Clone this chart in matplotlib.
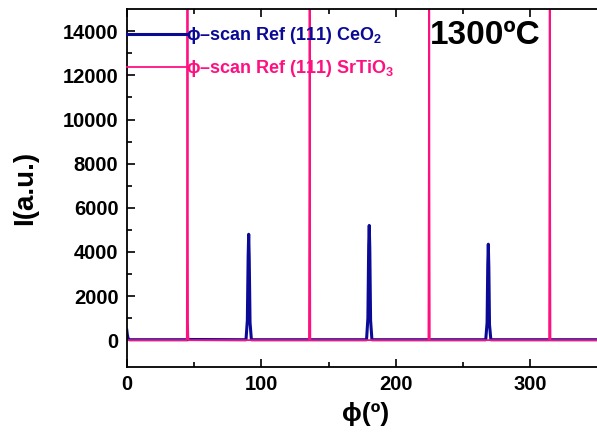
import numpy as np
import matplotlib
matplotlib.use('Agg')
import matplotlib.pyplot as plt

plt.rcParams['font.family'] = ['Liberation Sans', 'DejaVu Sans']
plt.rcParams['mathtext.fontset'] = 'custom'
plt.rcParams['mathtext.rm'] = 'Liberation Sans:bold'
plt.rcParams['mathtext.it'] = 'Liberation Sans:bold'
plt.rcParams['mathtext.bf'] = 'Liberation Sans:bold'

# phi-scan data
ceo2_phi = [0, 0.4, 1.0, 2.0, 45, 46, 88.6, 89.6, 90.2, 90.6, 91.0, 91.6, 92.6,
            178.2, 179.2, 179.8, 180.2, 180.6, 181.2, 182.2,
            266.8, 267.8, 268.3, 268.7, 269.1, 269.6, 270.6, 355]
ceo2_I = [450, 250, 60, 20, 20, 30, 20, 900, 3800, 4800, 3700, 800, 20,
          20, 1000, 4300, 5200, 4200, 900, 20,
          20, 800, 3400, 4350, 3300, 700, 20, 20]

sto_phi = [0, 44.6, 44.9, 45.1, 45.3, 45.5, 45.7, 46.0,
           135.4, 135.7, 135.9, 136.1, 136.4,
           224.2, 224.5, 224.7, 224.9, 225.2,
           313.9, 314.2, 314.4, 314.6, 314.9, 355]
sto_I = [0, 0, 8000, 30000, 8000, 800, 200, 0,
         0, 8000, 30000, 8000, 0,
         0, 8000, 30000, 8000, 0,
         0, 8000, 30000, 8000, 0, 0]

blue = '#0A0A96'
pink = '#FF1080'

fig = plt.figure(figsize=(5.97, 4.37), dpi=100)
ax = fig.add_axes([0.2124, 0.161, 0.80, 0.818])

ax.plot(ceo2_phi, ceo2_I, color=blue, lw=2.2, label='\u03d5\u2013scan Ref (111) CeO$_2$')
ax.plot(sto_phi, sto_I, color=pink, lw=1.3, label='\u03d5\u2013scan Ref (111) SrTiO$_3$')

ax.set_xlim(0, 355)
ax.set_ylim(-1200, 15000)
ax.set_xticks([0, 100, 200, 300])
ax.set_xticks([50, 150, 250, 350], minor=True)
ax.set_yticks(np.arange(0, 14001, 2000))
ax.set_yticks(np.arange(1000, 15000, 2000), minor=True)
ax.tick_params(which='both', direction='in', top=True, right=False, width=1.2)
ax.tick_params(which='major', length=6, labelsize=14.5, pad=6)
ax.tick_params(which='minor', length=3.5)
for lab in ax.get_xticklabels() + ax.get_yticklabels():
    lab.set_fontweight('bold')
for s in ['left', 'bottom', 'top']:
    ax.spines[s].set_linewidth(1.3)
ax.spines['right'].set_visible(False)

ax.set_xlabel('\u03d5(\u00ba)', fontsize=19, fontweight='bold', labelpad=6)
ax.set_ylabel('I(a.u.)', fontsize=20, fontweight='bold', labelpad=18)

leg = ax.legend(loc='upper left', bbox_to_anchor=(0.0, 0.955), frameon=False,
                fontsize=13, handlelength=3.3, handletextpad=0.0,
                labelspacing=0.65, borderaxespad=0.0, borderpad=0.0)
for txt, c in zip(leg.get_texts(), [blue, pink]):
    txt.set_color(c)
    txt.set_fontweight('bold')

ax.text(0.635, 0.925, '1300\u00baC', transform=ax.transAxes, fontsize=24,
        fontweight='bold', va='center', ha='left')

fig.savefig('out.png', dpi=100)
